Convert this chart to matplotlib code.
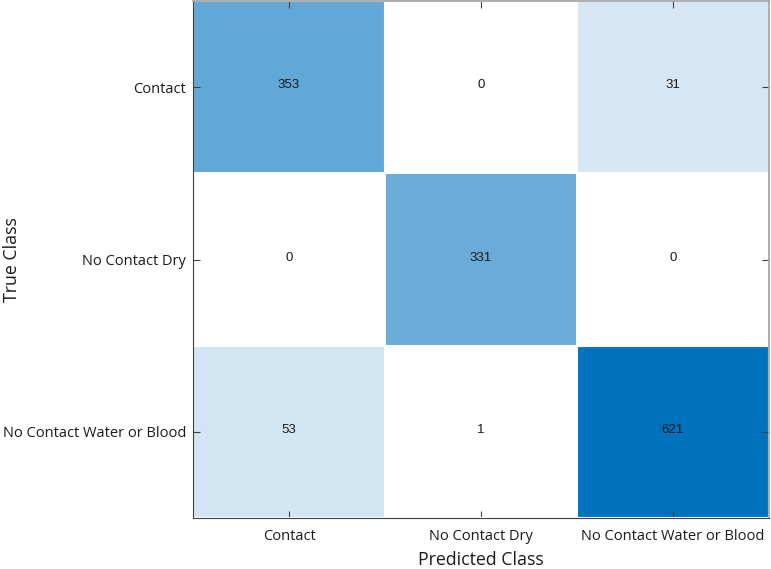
import matplotlib
matplotlib.use("Agg")
import matplotlib.pyplot as plt
import numpy as np
from matplotlib.colors import LinearSegmentedColormap

# data
classes = ["Contact", "No Contact Dry", "No Contact Water or Blood"]
counts = np.array([
    [353, 0, 31],
    [0, 331, 0],
    [53, 1, 621],
])

# white -> MATLAB blue, with light tint for small counts
cmap = LinearSegmentedColormap.from_list(
    "cm_blue",
    [(0.0, "#ffffff"), (0.05, "#d4e6f3"), (0.09, "#d2e5f3"),
     (0.53, "#6bacd9"), (0.57, "#62a8d6"), (1.0, "#0072bd")])

fig = plt.figure(figsize=(7.71, 5.69), dpi=100, facecolor="white")
ax = fig.add_axes([193 / 771, 51 / 569, 576 / 771, 517 / 569])

ax.imshow(counts, cmap=cmap, vmin=0, vmax=counts.max(), aspect="auto",
          interpolation="nearest")

for i in range(counts.shape[0]):
    for j in range(counts.shape[1]):
        ax.text(j, i - 0.01, str(counts[i, j]), ha="center", va="center",
                fontsize=9.5, family="Liberation Sans", color="#1a1a1a")

# white separators between cells
ax.set_xticks(np.arange(-0.5, 3, 1), minor=True)
ax.set_yticks(np.arange(-0.5, 3, 1), minor=True)
ax.grid(which="minor", color="white", linewidth=1.5)
ax.tick_params(which="minor", length=0)

ax.set_xticks(range(3))
ax.set_yticks(range(3))
ax.set_xticklabels(classes, fontsize=10.5, family="Open Sans", color="#1a1a1a")
ax.set_yticklabels(classes, fontsize=10.5, family="Open Sans", color="#1a1a1a")
ax.tick_params(which="major", direction="in", length=5, width=0.8,
               color="#404040", top=True, right=True)
ax.tick_params(axis="x", which="major", pad=8)
ax.tick_params(axis="y", which="major", pad=5)

ax.set_xlabel("Predicted Class", fontsize=12.8, family="Open Sans",
              color="#1a1a1a")
ax.set_ylabel("True Class", fontsize=12.8, family="Open Sans",
              color="#1a1a1a")
ax.xaxis.set_label_coords(0.5, -0.064)
ax.yaxis.set_label_coords(-0.299, 0.5)

for side in ["left", "bottom"]:
    ax.spines[side].set_color("#404040")
    ax.spines[side].set_linewidth(0.8)
for side in ["top", "right"]:
    ax.spines[side].set_color("#a0a0a0")
    ax.spines[side].set_linewidth(1.2)

fig.savefig("out.png", dpi=100, facecolor="white")
